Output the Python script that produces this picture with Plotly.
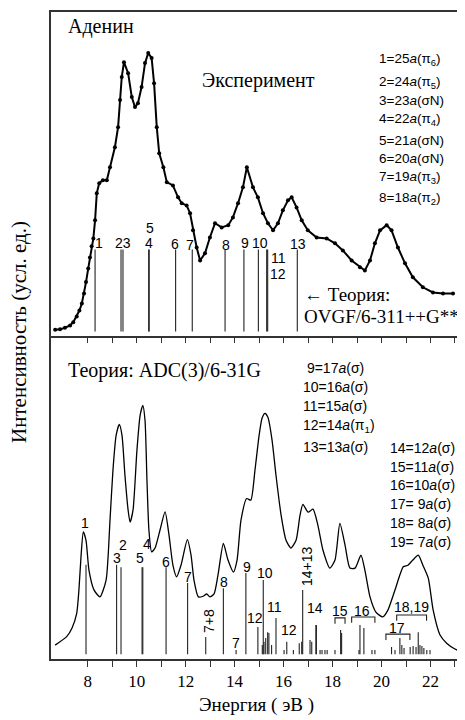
import plotly.graph_objects as go

# ---------------- data ----------------
# Experimental spectrum (upper panel): energy (eV), intensity (arb.)
exp_energy = [6.67, 6.87, 7.07, 7.28, 7.41, 7.55, 7.66, 7.76, 7.85, 7.93, 8.02, 8.09, 8.16, 8.23,
              8.30, 8.37, 8.47, 8.62, 8.78, 8.91, 9.11, 9.24, 9.32, 9.39, 9.48, 9.65, 9.80, 9.93,
              10.05, 10.20, 10.34, 10.47, 10.61, 10.71, 10.82, 10.92, 11.09, 11.23, 11.48, 11.69,
              11.84, 12.04, 12.18, 12.30, 12.45, 12.59, 12.79, 12.99, 13.20, 13.47, 13.74, 13.93,
              14.14, 14.34, 14.50, 14.75, 14.95, 15.16, 15.36, 15.57, 15.77, 15.97, 16.18, 16.33,
              16.53, 16.74, 16.99, 17.35, 17.76, 18.10, 18.42, 18.78, 19.12, 19.32, 19.53, 19.73,
              19.94, 20.21, 20.41, 20.67, 20.96, 21.28, 21.69, 22.10, 22.51, 22.92]
exp_intensity = [1.8, 1.9, 2.4, 3.1, 4.1, 5.9, 7.7, 9.9, 13.0, 16.5, 20.7, 24.1, 27.6, 30.0,
                 35.6, 44.0, 47.1, 48.0, 48.0, 52.0, 58.2, 64.4, 72.8, 79.9, 84.5, 81.1, 73.7, 70.6,
                 71.8, 76.8, 84.2, 87.3, 85.8, 78.0, 64.4, 56.3, 52.0, 47.4, 46.4, 42.7,
                 40.9, 40.2, 37.8, 32.5, 27.2, 23.2, 25.4, 30.3, 34.7, 33.4, 34.1, 36.5,
                 40.9, 45.8, 52.0, 45.8, 42.7, 37.8, 34.7, 32.5, 34.7, 38.7, 41.8, 42.7,
                 39.6, 35.6, 32.5, 30.3, 30.0, 28.5, 26.3, 23.2, 21.1, 20.1, 23.2, 28.5,
                 32.5, 34.1, 32.5, 27.2, 22.3, 18.0, 14.9, 13.3, 13.0, 13.0]

# OVGF/6-311++G** ionisation energies (upper panel sticks)
ovgf_energy = [8.30, 9.36, 9.44, 10.49, 10.51, 11.59, 12.27, 13.61, 14.38, 14.97, 15.31, 15.35, 16.56]
ovgf_top = 26.6
ovgf_base = 1.2

# ADC(3)/6-31G convoluted spectrum (lower panel)
adc_energy = [6.67, 7.14, 7.36, 7.55, 7.64, 7.73, 7.82, 7.93, 8.05, 8.26, 8.50, 8.75, 8.91, 9.03,
              9.16, 9.29, 9.40, 9.52, 9.65, 9.73, 9.85, 10.01, 10.14, 10.25, 10.34, 10.42, 10.50,
              10.61, 10.75, 10.95, 11.16, 11.32, 11.48, 11.63, 11.81, 12.07, 12.22, 12.34, 12.52,
              12.71, 12.86, 12.99, 13.16, 13.32, 13.54, 13.73, 13.95, 14.10, 14.26, 14.49, 14.66,
              14.83, 15.00, 15.12, 15.24, 15.36, 15.53, 15.69, 15.90, 16.10, 16.30, 16.51, 16.67,
              16.79, 17.00, 17.20, 17.40, 17.61, 17.89, 18.10, 18.30, 18.51, 18.71, 18.92, 19.16,
              19.32, 19.53, 19.77, 20.05, 20.26, 20.55, 20.89, 21.08, 21.28, 21.50, 21.69, 21.91,
              22.11, 22.39, 22.66, 23.00, 23.28]
adc_intensity = [4.3, 6.9, 9.6, 14.1, 21.3, 32.1, 39.3, 36.7, 27.5, 21.3, 19.2, 24.4, 42.9, 58.3,
                 69.1, 72.5, 69.1, 56.8, 46.0, 42.3, 46.0, 64.5, 75.3, 78.4, 73.8, 55.2, 39.8,
                 33.1, 34.3, 39.8, 45.5, 38.3, 29.0, 25.4, 29.0, 36.9, 32.1, 24.4, 19.2,
                 19.4, 20.1, 19.2, 20.1, 25.9, 35.7, 30.6, 26.9, 30.6, 42.9, 49.6, 49.1,
                 58.3, 69.1, 74.4, 75.9, 74.7, 67.6, 56.8, 44.4, 36.7, 34.3, 36.7, 44.4,
                 47.8, 45.4, 46.3, 41.4, 33.6, 28.1, 30.6, 41.9, 35.2, 28.1, 28.1, 32.1,
                 27.5, 19.2, 14.5, 13.0, 15.1, 21.3, 28.5, 29.0, 30.6, 32.1, 29.0, 25.0,
                 15.1, 7.4, 4.9, 3.1, 2.2]

# ADC(3) pole strengths (lower panel sticks)
stick_energy = [7.93, 9.18, 9.36, 10.22, 10.25, 11.20, 12.08, 12.82, 13.54, 14.06, 14.46, 14.95,
                15.13, 15.17, 15.20, 15.27, 15.35, 15.40, 15.51, 15.69, 16.02, 16.13, 16.40, 16.64,
                16.74, 16.78, 17.08, 17.15, 17.32, 17.34, 17.49, 17.57, 17.69, 17.78, 18.10, 18.33,
                18.37, 19.08, 19.12, 19.28, 19.61, 19.73, 20.41, 20.55, 20.75, 20.83, 20.92, 21.17,
                21.29, 21.41, 21.50, 21.57, 21.65, 21.73, 21.85, 21.98]
stick_height = [29.1, 29.1, 28.4, 28.4, 28.4, 28.4, 23.5, 6.8, 21.9, 2.8, 26.6, 9.9,
                4.3, 24.4, 5.3, 6.5, 8.3, 8.0, 4.3, 12.7, 2.8, 5.3, 2.8, 4.9,
                5.3, 21.3, 5.9, 5.3, 10.5, 10.5, 2.8, 2.8, 2.8, 2.8, 2.8, 9.0,
                8.0, 2.8, 10.5, 9.6, 2.8, 2.8, 3.7, 2.8, 6.5, 4.3, 3.4, 3.7,
                4.0, 3.7, 8.3, 4.3, 4.0, 3.4, 2.8, 2.8]
stick_base = 1.5

# brackets grouping sticks in lower panel
bracket_start = [18.10, 18.78, 20.18, 20.62]
bracket_end = [18.51, 19.73, 21.16, 21.84]
bracket_level = [12.7, 13.0, 7.7, 13.6]

tick_values = list(range(8, 24))
tick_labels = [str(v) if v % 2 == 0 and v <= 22 else "" for v in tick_values]

upper_legend = ["1=25<i>a</i>(π<sub>6</sub>)", "2=24<i>a</i>(π<sub>5</sub>)", "3=23<i>a</i>(σN)",
                "4=22<i>a</i>(π<sub>4</sub>)", "5=21<i>a</i>(σN)", "6=20<i>a</i>(σN)",
                "7=19<i>a</i>(π<sub>3</sub>)", "8=18<i>a</i>(π<sub>2</sub>)"]
lower_legend_a = [" 9=17<i>a</i>(σ)", "10=16<i>a</i>(σ)", "11=15<i>a</i>(σ)",
                  "12=14<i>a</i>(π<sub>1</sub>)", "13=13<i>a</i>(σ)"]
lower_legend_b = ["14=12<i>a</i>(σ)", "15=11<i>a</i>(σ)", "16=10<i>a</i>(σ)",
                  "17= 9<i>a</i>(σ)", "18= 8<i>a</i>(σ)", "19= 7<i>a</i>(σ)"]

# ---------------- figure ----------------
OFF = 8                      # page body margin that offsets the figure in the window
WIN_W, WIN_H = 465, 720
W, H = WIN_W - OFF, WIN_H - OFF
ML, MR, MT = 51 - OFF, 0, 12 - OFF
MB = WIN_H - 659
PW, PH = W - ML - MR, H - MT - MB
SERIF = "Liberation Serif, Times New Roman, serif"
SANS = "Liberation Sans, Arial, sans-serif"
INK = "#222222"


def px(x):  # window x -> paper
    return (x - OFF - ML) / PW


def py(y):  # window y -> paper
    return (H - MB - (y - OFF)) / PH


def sticks(xs, tops, base):
    X, Y = [], []
    for x, t in zip(xs, tops):
        X += [x, x, None]
        Y += [base, t, None]
    return X, Y


fig = go.Figure()

# upper panel
fig.add_trace(go.Scatter(x=exp_energy, y=exp_intensity, mode="lines+markers",
                         line=dict(color="black", width=2),
                         marker=dict(color="black", size=4),
                         xaxis="x2", yaxis="y2", hoverinfo="skip"))
ox, oy = sticks(ovgf_energy, [ovgf_top] * len(ovgf_energy), ovgf_base)
fig.add_trace(go.Scatter(x=ox, y=oy, mode="lines", line=dict(color=INK, width=1.1),
                         xaxis="x2", yaxis="y2", hoverinfo="skip"))

# lower panel
fig.add_trace(go.Scatter(x=adc_energy, y=adc_intensity, mode="lines",
                         line=dict(color="black", width=1.3, shape="spline", smoothing=0.6),
                         xaxis="x", yaxis="y", hoverinfo="skip"))
sx, sy = sticks(stick_energy, stick_height, stick_base)
fig.add_trace(go.Scatter(x=sx, y=sy, mode="lines", line=dict(color=INK, width=1.1),
                         xaxis="x", yaxis="y", hoverinfo="skip"))
for a, b, lv in zip(bracket_start, bracket_end, bracket_level):
    fig.add_trace(go.Scatter(x=[a, a, b, b], y=[lv - 1.8, lv, lv, lv - 1.8], mode="lines",
                             line=dict(color=INK, width=1.1), xaxis="x", yaxis="y",
                             hoverinfo="skip"))

ann = []


def text(x, y, s, size=14, family=SANS, anchor="center", angle=0):
    ann.append(dict(x=px(x), y=py(y), xref="paper", yref="paper", text=s, showarrow=False,
                    xanchor=anchor, yanchor="middle", textangle=angle,
                    font=dict(family=family, size=size, color="black")))


# upper panel texts
text(66, 27, "Аденин", 20, SERIF, "left")
text(200, 80, "Эксперимент", 20, SERIF, "left")
for s, yy in zip(upper_legend, [60, 82, 101, 119, 140, 158, 177, 199]):
    text(377, yy, s, 13.5, SANS, "left")
for s, xx, yy in [("1", 99, 243), ("23", 123, 243), ("5", 150, 228), ("4", 148.5, 243),
                  ("6", 175, 244), ("7", 189.5, 245), ("8", 225.5, 245), ("9", 245, 243),
                  ("10", 260, 243), ("11", 278, 258), ("12", 278, 274), ("13", 298, 244)]:
    text(xx, yy, s, 14)
text(302, 294, "← Теория:", 19, SERIF, "left")
text(302, 316, "OVGF/6-311++G**", 19, SERIF, "left")

# lower panel texts
text(66, 370, "Теория: ADC(3)/6-31G", 20, SERIF, "left")
for s, yy in zip(lower_legend_a, [368, 387, 406, 426, 447]):
    text(301, yy, s, 14, SANS, "left")
for s, yy in zip(lower_legend_b, [448, 467, 485, 504, 523, 542]):
    text(388, yy, s, 14, SANS, "left")
for s, xx, yy in [("1", 85, 523), ("3", 116.5, 558), ("2", 122.5, 545), ("5", 140, 558),
                  ("4", 146.5, 544), ("6", 165.5, 562), ("7", 188, 577), ("8", 223.5, 582),
                  ("9", 246.5, 567), ("10", 265, 573), ("7", 236, 643), ("12", 255, 618),
                  ("11", 274, 607), ("12", 288.5, 630), ("14", 315, 608), ("15", 340, 611),
                  ("16", 362, 611), ("17", 397, 628), ("18,19", 411, 607)]:
    text(xx, yy, s, 14)
text(307, 566, "14+13", 14, SANS, "center", -90)
text(209, 621, "7+8", 14, SANS, "center", -90)

# axis titles
text(256, 705, "Энергия ( эВ )", 19, SERIF)
text(19, 332, "Интенсивность (усл. ед.)", 21, SERIF, "center", -90)

XR = [6.5, 23.41]
fig.update_layout(
    width=W, height=H, margin=dict(l=ML, r=MR, t=MT, b=MB),
    paper_bgcolor="white", plot_bgcolor="white", showlegend=False,
    xaxis=dict(domain=[0, 1], anchor="y", range=XR, showline=True, linecolor="#333",
               linewidth=1.5, ticks="outside", ticklen=6, tickwidth=1.2, tickcolor="#333",
               tickvals=tick_values, ticktext=tick_labels, showgrid=False, zeroline=False,
               tickfont=dict(family=SERIF, size=17, color="black")),
    yaxis=dict(domain=[0, 0.5], anchor="x", range=[0, 100], showline=True, linecolor="#333",
               linewidth=1.5, showticklabels=False, ticks="", showgrid=False, zeroline=False),
    xaxis2=dict(domain=[0, 1], anchor="y2", range=XR, showline=True, mirror=True,
                linecolor="#333", linewidth=1.5, ticks="outside", ticklen=6, tickwidth=1.2,
                tickcolor="#333", tickvals=tick_values, showticklabels=False, showgrid=False,
                zeroline=False),
    yaxis2=dict(domain=[0.5, 1], anchor="x2", range=[0, 100], showline=True, linecolor="#333",
                linewidth=1.5, showticklabels=False, ticks="", showgrid=False, zeroline=False),
    annotations=ann,
)

fig.write_html("out.html")
